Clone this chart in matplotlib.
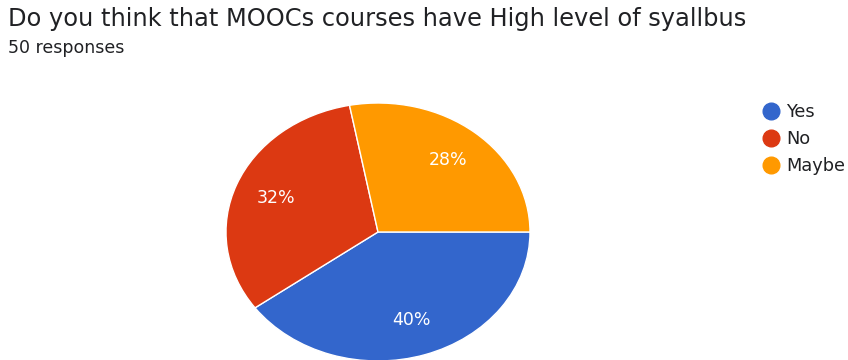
import matplotlib
matplotlib.use("Agg")
import matplotlib.pyplot as plt
from matplotlib.lines import Line2D

title = "Do you think that MOOCs courses have High level of syallbus"
subtitle = "50 responses"
categories = ["Yes", "No", "Maybe"]
percentages = [40, 32, 28]
colors = ["#3366CC", "#DC3912", "#FF9900"]

W, H = 848, 360
fig = plt.figure(figsize=(W / 100, H / 100), dpi=100)
fig.patch.set_facecolor("white")

plt.rcParams["font.family"] = ["DejaVu Sans"]

fig.text(8 / W, 1 - 26 / H, title, fontsize=17.4, color="#202124", ha="left", va="baseline")
fig.text(8 / W, 1 - 53 / H, subtitle, fontsize=12.5, color="#202124", ha="left", va="baseline")

# elliptical pie: stretched horizontally by the axes box
cx, cy, rx, ry = 378, 232, 152, 129
ax = fig.add_axes([(cx - rx) / W, 1 - (cy + ry) / H, 2 * rx / W, 2 * ry / H])
wedges, texts, autotexts = ax.pie(
    percentages,
    colors=colors,
    startangle=0,
    counterclock=False,
    autopct=lambda p: f"{p:.0f}%",
    pctdistance=0.72,
    wedgeprops=dict(edgecolor="white", linewidth=1.0),
    textprops=dict(color="white", fontsize=12.5),
)
ax.set_aspect("auto")
ax.set_xlim(-1, 1)
ax.set_ylim(-1, 1)
ax.axis("off")

# legend
handles = [Line2D([0], [0], marker="o", linestyle="", markersize=12,
                  markerfacecolor=c, markeredgecolor=c) for c in colors]
leg = fig.legend(handles, categories, loc="upper left",
                 bbox_to_anchor=(759 / W, 1 - 103 / H), frameon=False,
                 fontsize=12.8, handletextpad=0.25, labelspacing=0.5,
                 handlelength=1.3, borderaxespad=0, borderpad=0)
for t in leg.get_texts():
    t.set_color("#202124")

fig.savefig("out.png", dpi=100, facecolor="white")
